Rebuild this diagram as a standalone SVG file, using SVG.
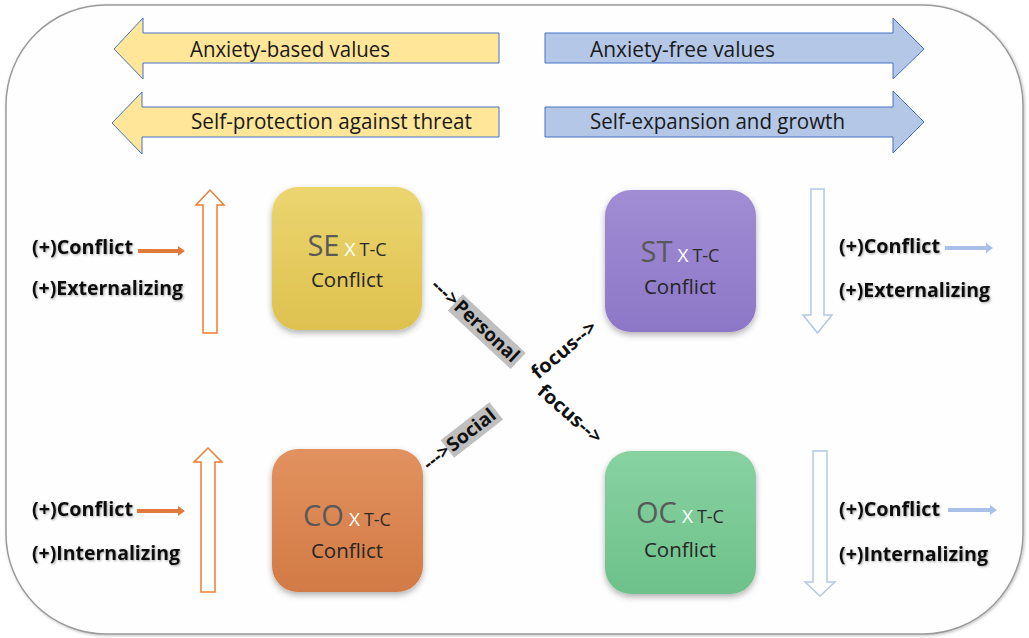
<svg xmlns="http://www.w3.org/2000/svg" width="1029" height="638" viewBox="0 0 1029 638">
<defs>
<style>
.t{font-family:"Open Sans","Liberation Sans",Arial,sans-serif;}
.top{font-size:21px;fill:#1a1a1a;}
.lbl{font-size:19.5px;font-weight:bold;fill:#111;}
.big{font-size:29px;fill:#595959;}
.x{font-size:19px;fill:#ffffff;}
.tc{font-size:18px;fill:#2b2b2b;}
.cf{font-size:20.5px;fill:#262626;}
.rot{font-size:19px;font-weight:bold;fill:#111;}
.yarr{fill:#FFE699;stroke:#4472C4;stroke-width:1;}
.barr{fill:#B4C7E7;stroke:#4472C4;stroke-width:1;}
.oh{fill:#ffffff;stroke:#ED7D31;stroke-width:1.5;}
.bh{fill:#ffffff;stroke:#B4C7E7;stroke-width:1.5;}
.os{fill:#E07A3C;}
.bs{fill:#A9C1E8;}
.hl{fill:#BFBFBF;}
</style>
<filter id="sh" x="-20%" y="-20%" width="140%" height="150%">
<feDropShadow dx="0" dy="3" stdDeviation="3" flood-color="#000" flood-opacity="0.3"/>
</filter>
<filter id="fsh" x="-5%" y="-5%" width="110%" height="110%">
<feDropShadow dx="1" dy="1" stdDeviation="1.5" flood-color="#000" flood-opacity="0.25"/>
</filter>
<filter id="tsh" x="-5%" y="-20%" width="110%" height="150%">
<feDropShadow dx="1" dy="1" stdDeviation="0.8" flood-color="#000" flood-opacity="0.35"/>
</filter>
<linearGradient id="gSE" x1="0" y1="0" x2="0" y2="1"><stop offset="0" stop-color="#ECD570"/><stop offset="1" stop-color="#DEC14F"/></linearGradient>
<linearGradient id="gST" x1="0" y1="0" x2="0" y2="1"><stop offset="0" stop-color="#A18DD4"/><stop offset="1" stop-color="#8B77C6"/></linearGradient>
<linearGradient id="gCO" x1="0" y1="0" x2="0" y2="1"><stop offset="0" stop-color="#E2925F"/><stop offset="1" stop-color="#D27A45"/></linearGradient>
<linearGradient id="gOC" x1="0" y1="0" x2="0" y2="1"><stop offset="0" stop-color="#88D2A2"/><stop offset="1" stop-color="#6DC189"/></linearGradient>
</defs>
<rect width="1029" height="638" fill="#ffffff"/>
<g id="frame">
<rect x="6" y="5" width="1017" height="629" rx="100" ry="100" fill="#fefefe" stroke="#9a9a9a" stroke-width="1.5" filter="url(#fsh)"/>
</g>
<g id="banner-anxiety-based">
<polygon class="yarr" points="499,33 143,33 143,18 114,49 143,79 143,63 499,63"/>
<text class="t top" x="190" y="57" textLength="200" lengthAdjust="spacingAndGlyphs">Anxiety-based values</text>
</g>
<g id="banner-self-protection">
<polygon class="yarr" points="499,107 142,107 142,92 112,123 142,154 142,137 499,137"/>
<text class="t top" x="191" y="129" textLength="281" lengthAdjust="spacingAndGlyphs">Self-protection against threat</text>
</g>
<g id="banner-anxiety-free">
<polygon class="barr" points="545,33 893,33 893,18 924,49 893,79 893,63 545,63"/>
<text class="t top" x="590" y="57" textLength="185" lengthAdjust="spacingAndGlyphs">Anxiety-free values</text>
</g>
<g id="banner-self-expansion">
<polygon class="barr" points="545,107 893,107 893,91 924,122 893,153 893,137 545,137"/>
<text class="t top" x="590" y="129" textLength="255" lengthAdjust="spacingAndGlyphs">Self-expansion and growth</text>
</g>
<g id="node-SE">
<rect x="272" y="187" width="150" height="143" rx="26" fill="url(#gSE)" filter="url(#sh)"/>
<text class="t" x="347" y="256" text-anchor="middle"><tspan class="big">SE</tspan><tspan class="x" dx="5">X</tspan><tspan class="tc" dx="4">T-C</tspan></text>
<text class="t cf" x="347" y="287" text-anchor="middle">Conflict</text>
</g>
<g id="node-ST">
<rect x="605" y="190" width="151" height="142" rx="26" fill="url(#gST)" filter="url(#sh)"/>
<text class="t" x="680" y="262" text-anchor="middle"><tspan class="big">ST</tspan><tspan class="x" dx="5">X</tspan><tspan class="tc" dx="4">T-C</tspan></text>
<text class="t cf" x="680" y="294" text-anchor="middle">Conflict</text>
</g>
<g id="node-CO">
<rect x="272" y="449" width="151" height="143" rx="26" fill="url(#gCO)" filter="url(#sh)"/>
<text class="t" x="347" y="526" text-anchor="middle"><tspan class="big">CO</tspan><tspan class="x" dx="5">X</tspan><tspan class="tc" dx="4">T-C</tspan></text>
<text class="t cf" x="347" y="558" text-anchor="middle">Conflict</text>
</g>
<g id="node-OC">
<rect x="605" y="451" width="151" height="143" rx="26" fill="url(#gOC)" filter="url(#sh)"/>
<text class="t" x="680" y="523" text-anchor="middle"><tspan class="big">OC</tspan><tspan class="x" dx="5">X</tspan><tspan class="tc" dx="4">T-C</tspan></text>
<text class="t cf" x="680" y="557" text-anchor="middle">Conflict</text>
</g>
<g id="labels-left" filter="url(#tsh)">
<text class="t lbl" x="32" y="254" textLength="101" lengthAdjust="spacingAndGlyphs">(+)Conflict</text>
<text class="t lbl" x="32" y="295" textLength="151" lengthAdjust="spacingAndGlyphs">(+)Externalizing</text>
<text class="t lbl" x="32" y="516" textLength="101" lengthAdjust="spacingAndGlyphs">(+)Conflict</text>
<text class="t lbl" x="32" y="560" textLength="148" lengthAdjust="spacingAndGlyphs">(+)Internalizing</text>
</g>
<g id="labels-right" filter="url(#tsh)">
<text class="t lbl" x="839" y="253" textLength="101" lengthAdjust="spacingAndGlyphs">(+)Conflict</text>
<text class="t lbl" x="839" y="297" textLength="151" lengthAdjust="spacingAndGlyphs">(+)Externalizing</text>
<text class="t lbl" x="839" y="516" textLength="101" lengthAdjust="spacingAndGlyphs">(+)Conflict</text>
<text class="t lbl" x="839" y="561" textLength="149" lengthAdjust="spacingAndGlyphs">(+)Internalizing</text>
</g>
<g id="connectors">
<polygon class="oh" points="203,333 217,333 217,205 224,205 210,190 196,205 203,205"/>
<polygon class="oh" points="201,592 215,592 215,462 222,462 208,448 194,462 201,462"/>
<polygon class="bh" points="811,189 824,189 824,315 832,315 817.5,333 803,315 811,315"/>
<polygon class="bh" points="813,451 827,451 827,582 835,582 820,596 805,582 813,582"/>
<polygon class="os" points="138,249 178,249 178,246 185,251 178,256 178,253 138,253"/>
<polygon class="os" points="137,509 178,509 178,506 185,511 178,516 178,513 137,513"/>
<polygon class="bs" points="945,246 986,246 986,243 993,248 986,253 986,250 945,250"/>
<polygon class="bs" points="948,508 990,508 990,505 997,510 990,515 990,512 948,512"/>
<g id="arrow-personal" transform="translate(430,287) rotate(43)">
<rect class="hl" x="29" y="-17" width="86" height="22"/>
<text class="t rot" x="0" y="0"><tspan textLength="30" lengthAdjust="spacingAndGlyphs">---&gt;</tspan><tspan x="31" textLength="81" lengthAdjust="spacingAndGlyphs">Personal</tspan></text>
</g>
<g id="arrow-social" transform="translate(429,471) rotate(-38)">
<rect class="hl" x="28" y="-17" width="62" height="22"/>
<text class="t rot" x="0" y="0"><tspan textLength="29" lengthAdjust="spacingAndGlyphs">---&gt;</tspan><tspan x="30" textLength="57" lengthAdjust="spacingAndGlyphs">Social</tspan></text>
</g>
<g id="arrow-focus-up" transform="translate(538,380) rotate(-40)">
<text class="t rot" x="0" y="0" textLength="79" lengthAdjust="spacingAndGlyphs">focus--&gt;</text>
</g>
<g id="arrow-focus-down" transform="translate(536,393) rotate(41)">
<text class="t rot" x="0" y="0" textLength="79" lengthAdjust="spacingAndGlyphs">focus--&gt;</text>
</g>
</g>
</svg>
